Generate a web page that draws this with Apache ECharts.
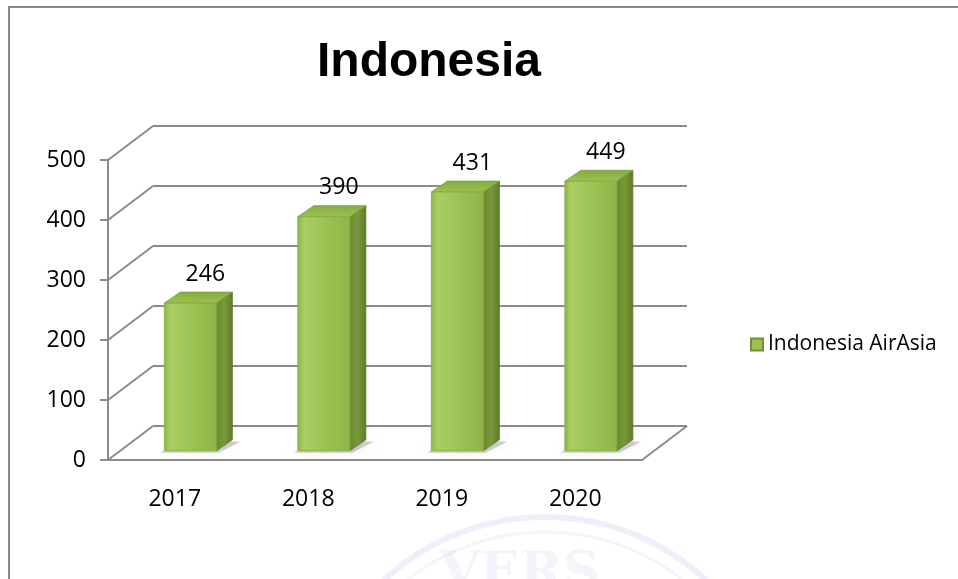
<!DOCTYPE html>
<html>
<head>
<meta charset="utf-8">
<script src="https://cdn.jsdelivr.net/npm/echarts@6/dist/echarts.min.js"></script>
<style>
html,body{margin:0;padding:0;background:#fff;}
#chart{width:958px;height:579px;}
</style>
</head>
<body>
<div id="chart"></div>
<script>
// ---- data ----
const titleText = 'Indonesia';
const seriesName = 'Indonesia AirAsia';
const categories = ['2017', '2018', '2019', '2020'];
const values = [246, 390, 431, 449];
const yTicks = [0, 100, 200, 300, 400, 500];

// ---- style / layout ----
const FONT = 'Open Sans';
const gridColor = '#8c8c8c';
const DEPTH = [45, -34];   // front wall -> back wall offset
const BAR_DEPTH = [16, -11];

const chart = echarts.init(document.getElementById('chart'), null, {renderer: 'canvas'});

const option = {
  backgroundColor: '#ffffff',
  animation: false,
  title: {
    text: titleText,
    left: 312,
    top: 34,
    textStyle: {fontFamily: 'Liberation Sans', fontWeight: 'bold', fontSize: 48, color: '#000'}
  },
  legend: {
    data: [seriesName],
    left: 745,
    top: 329,
    icon: 'rect',
    itemWidth: 12,
    itemHeight: 12,
    textStyle: {fontFamily: FONT, fontSize: 21, color: '#000'}
  },
  grid: [
    {left: 108, right: 316, top: 160, bottom: 119},      // front wall
    {left: 153, right: 271, top: 126, bottom: 153},      // back wall
    {left: 123.6, right: 300.4, top: 150.7, bottom: 128.3} // bar plane
  ],
  xAxis: [
    {
      gridIndex: 0, type: 'category', data: categories,
      axisLine: {show: true, lineStyle: {color: gridColor, width: 2}},
      axisTick: {show: false},
      axisLabel: {fontFamily: FONT, fontSize: 23, color: '#000', margin: 28}
    },
    {gridIndex: 1, type: 'category', data: categories, show: false},
    {gridIndex: 2, type: 'category', data: categories, show: false}
  ],
  yAxis: [
    {
      gridIndex: 0, type: 'value', min: 0, max: 500, interval: 100,
      axisLine: {show: true, lineStyle: {color: gridColor, width: 2}},
      axisTick: {show: true, length: 8, lineStyle: {color: gridColor, width: 2}},
      axisLabel: {fontFamily: FONT, fontSize: 23, color: '#000', margin: 22},
      splitLine: {show: false}
    },
    {
      gridIndex: 1, type: 'value', min: 0, max: 500, interval: 100,
      axisLine: {show: false}, axisTick: {show: false}, axisLabel: {show: false},
      splitLine: {show: true, lineStyle: {color: gridColor, width: 2}}
    },
    {gridIndex: 2, type: 'value', min: 0, max: 500, interval: 100, show: false}
  ],
  series: [
    {
      type: 'custom',
      name: 'walls',
      xAxisIndex: 0, yAxisIndex: 0,
      silent: true,
      z: 1,
      data: yTicks.map(v => [0, v]),
      renderItem: function (params, api) {
        const cs = params.coordSys;
        const y = api.coord([0, api.value(1)])[1];
        const children = [{
          type: 'line',
          shape: {x1: cs.x, y1: y, x2: cs.x + DEPTH[0], y2: y + DEPTH[1]},
          style: {stroke: gridColor, lineWidth: 2}
        }];
        if (api.value(1) === 0) {
          const xr = cs.x + cs.width;
          children.push({
            type: 'line',
            shape: {x1: xr, y1: y, x2: xr + DEPTH[0], y2: y + DEPTH[1]},
            style: {stroke: gridColor, lineWidth: 2}
          });
        }
        return {type: 'group', children: children};
      }
    },
    {
      type: 'custom',
      name: seriesName,
      xAxisIndex: 2, yAxisIndex: 2,
      z: 5,
      itemStyle: {color: '#9cc152', borderColor: '#6f8e35', borderWidth: 1},
      data: values.map((v, i) => [i, v]),
      renderItem: function (params, api) {
        const i = api.value(0), v = api.value(1);
        const top = api.coord([i, v]);
        const base = api.coord([i, 0]);
        const bw = api.size([1, 0])[0] * 0.39;
        const x0 = top[0] - bw / 2, x1 = top[0] + bw / 2;
        const dx = BAR_DEPTH[0], dy = BAR_DEPTH[1];
        const frontGrad = new echarts.graphic.LinearGradient(0, 0, 1, 0, [
          {offset: 0, color: '#8db345'},
          {offset: 0.12, color: '#a8cd62'},
          {offset: 0.55, color: '#9dc254'},
          {offset: 1, color: '#8fb447'}
        ]);
        const sideGrad = new echarts.graphic.LinearGradient(0, 0, 1, 0, [
          {offset: 0, color: '#6b8a32'},
          {offset: 0.5, color: '#78983a'},
          {offset: 1, color: '#5e7b2b'}
        ]);
        const topGrad = new echarts.graphic.LinearGradient(0, 1, 0, 0, [
          {offset: 0, color: '#9cc251'},
          {offset: 1, color: '#86ab3f'}
        ]);
        return {
          type: 'group',
          children: [
            {
              type: 'polygon',
              shape: {points: [[x0 - 4, base[1] + 2], [x1 + 2, base[1] + 2], [x1 + dx + 8, base[1] + dy + 2], [x0 + dx, base[1] + dy]]},
              style: {fill: 'rgba(0,0,0,0.18)', shadowBlur: 8, shadowColor: 'rgba(0,0,0,0.35)'}
            },
            {
              type: 'polygon',
              shape: {points: [[x1, top[1]], [x1 + dx, top[1] + dy], [x1 + dx, base[1] + dy], [x1, base[1]]]},
              style: {fill: sideGrad, stroke: '#5c7829', lineWidth: 0.8}
            },
            {
              type: 'polygon',
              shape: {points: [[x0, top[1]], [x0 + dx, top[1] + dy], [x1 + dx, top[1] + dy], [x1, top[1]]]},
              style: {fill: topGrad, stroke: '#7a9c38', lineWidth: 0.8}
            },
            {
              type: 'rect',
              shape: {x: x0, y: top[1], width: bw, height: base[1] - top[1]},
              style: {fill: frontGrad, stroke: '#86aa40', lineWidth: 0.8}
            },
            {
              type: 'text',
              x: top[0] + 15,
              y: top[1] - 29,
              style: {
                text: String(v), fill: '#000', fontFamily: FONT, fontSize: 23,
                align: 'center', verticalAlign: 'middle'
              }
            }
          ]
        };
      }
    }
  ],
  graphic: [
    {
      type: 'polyline', silent: true, z: 0,
      shape: {points: [[9, 579], [9, 7], [958, 7]]},
      style: {stroke: '#8a8a8a', lineWidth: 2, fill: null}
    },
    {
      type: 'circle', silent: true, z: -1,
      shape: {cx: 545, cy: 754, r: 237},
      style: {stroke: 'rgba(210,210,240,0.35)', lineWidth: 6, fill: null}
    },
    {
      type: 'circle', silent: true, z: -1,
      shape: {cx: 545, cy: 754, r: 222},
      style: {stroke: 'rgba(210,210,240,0.25)', lineWidth: 3, fill: null}
    },
    {
      type: 'text', silent: true, z: -1,
      x: 520, y: 548,
      style: {text: 'VERS', fill: 'rgba(210,210,240,0.25)', fontFamily: 'DejaVu Serif', fontWeight: 'bold', fontSize: 52, align: 'center', verticalAlign: 'top'}
    }
  ]
};

chart.setOption(option);
</script>
</body>
</html>
